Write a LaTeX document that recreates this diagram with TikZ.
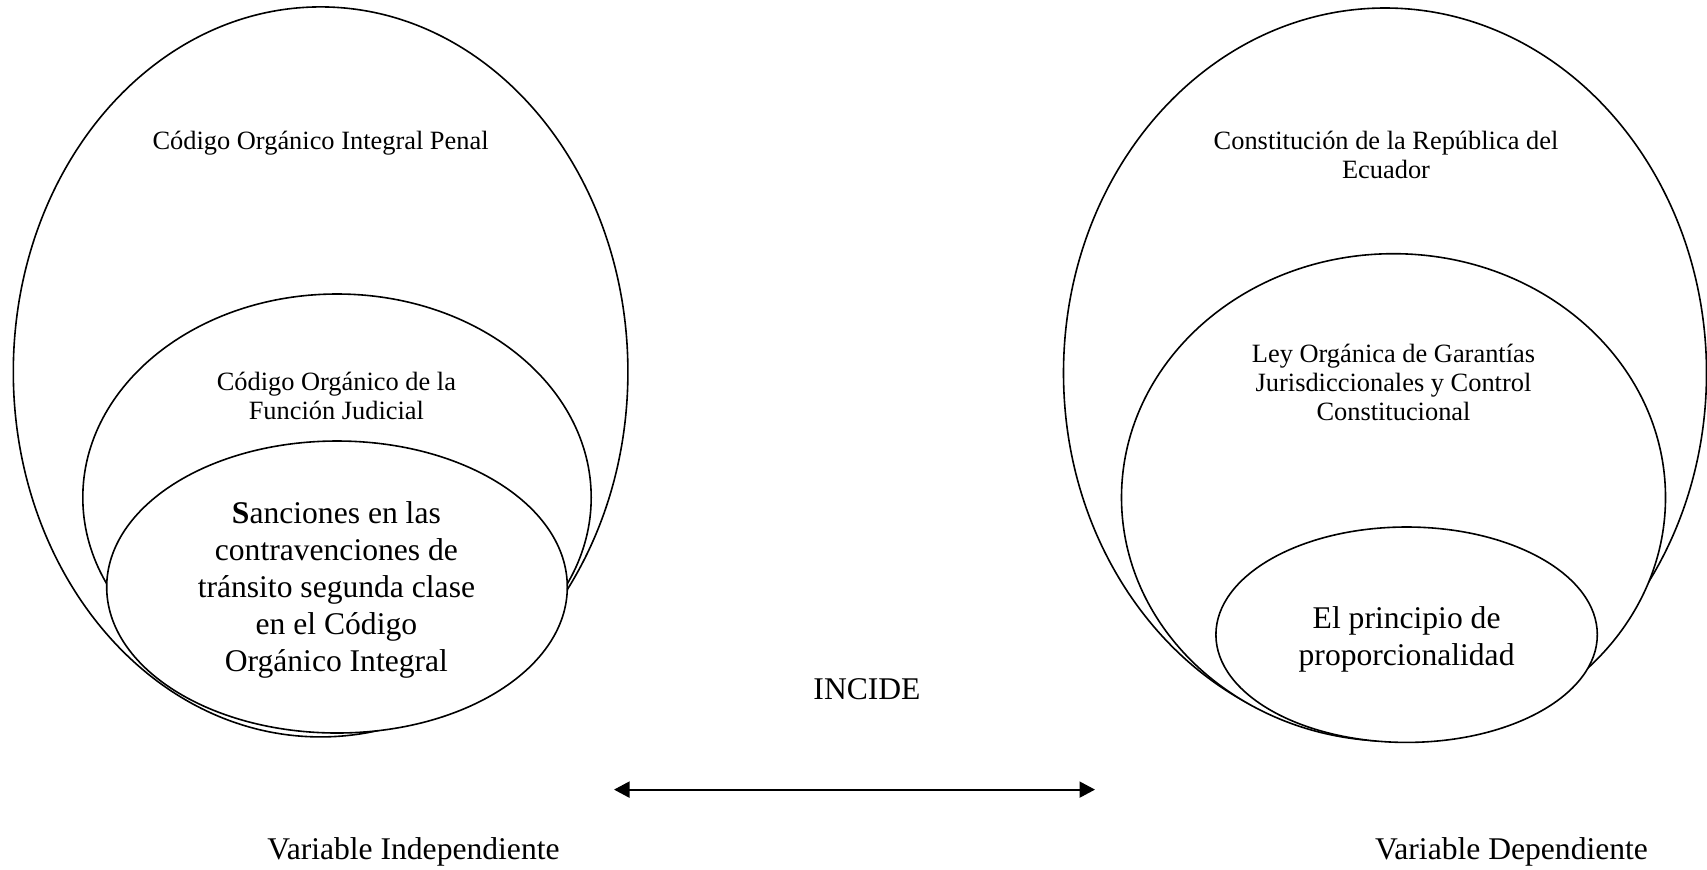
\documentclass[tikz,border=0pt]{standalone}
\usepackage{fontspec}
\setmainfont{Liberation Serif}
\usetikzlibrary{arrows.meta}
\tikzset{
  ring/.style={draw=black, line width=0.8pt, fill=white},
  smalltext/.style={align=center, inner sep=0pt, font=\fontsize{13.2}{14.7}\selectfont},
  bigtext/.style={align=center, inner sep=0pt, font=\fontsize{15.8}{18.5}\selectfont},
  link/.style={line width=1pt, {Triangle[length=7.75pt,width=8pt]}-{Triangle[length=7.75pt,width=8pt]}}
}
\begin{document}
\begin{tikzpicture}[x=0.5pt, y=-0.5pt]
\useasboundingbox (0,0) rectangle (1707,869);
% left group
\draw[ring] (320.6,371.9) ellipse [x radius=307.3, y radius=365];
\draw[ring] (337,497.5) ellipse [x radius=254.2, y radius=203.5];
\draw[ring] (337,587) ellipse [x radius=230.3, y radius=146];
% right group
\draw[ring] (1385,373) ellipse [x radius=321.5, y radius=365];
\draw[ring] (1393.5,497.5) ellipse [x radius=272, y radius=243.8];
\draw[ring] (1406.6,634.7) ellipse [x radius=190.7, y radius=107.7];
% texts
\node[smalltext] (cpen) at (320.6,143.5) {Código Orgánico Integral Penal};
\node[smalltext] (cofj) at (336.4,396.2) {Código Orgánico de la\\Función Judicial};
\node[bigtext] (sanc) at (336.4,590) {\textbf{S}anciones en las\\contravenciones de\\tránsito segunda clase\\en el Código\\Orgánico Integral};
\node[smalltext] (const) at (1386,155.2) {Constitución de la República del\\Ecuador};
\node[smalltext] (ley) at (1393.5,382.5) {Ley Orgánica de Garantías\\Jurisdiccionales y Control\\Constitucional};
\node[bigtext] (prin) at (1406.6,639) {El principio de\\proporcionalidad};
\node[bigtext] (incide) at (867,689) {INCIDE};
\coordinate (aL) at (614,789.6);
\coordinate (aR) at (1095,789.6);
\draw[link] (aL) -- (aR);
\node[bigtext] (vind) at (413.5,852) {Variable Independiente};
\node[bigtext] (vdep) at (1511.5,852) {Variable Dependiente};
\end{tikzpicture}
\end{document}
